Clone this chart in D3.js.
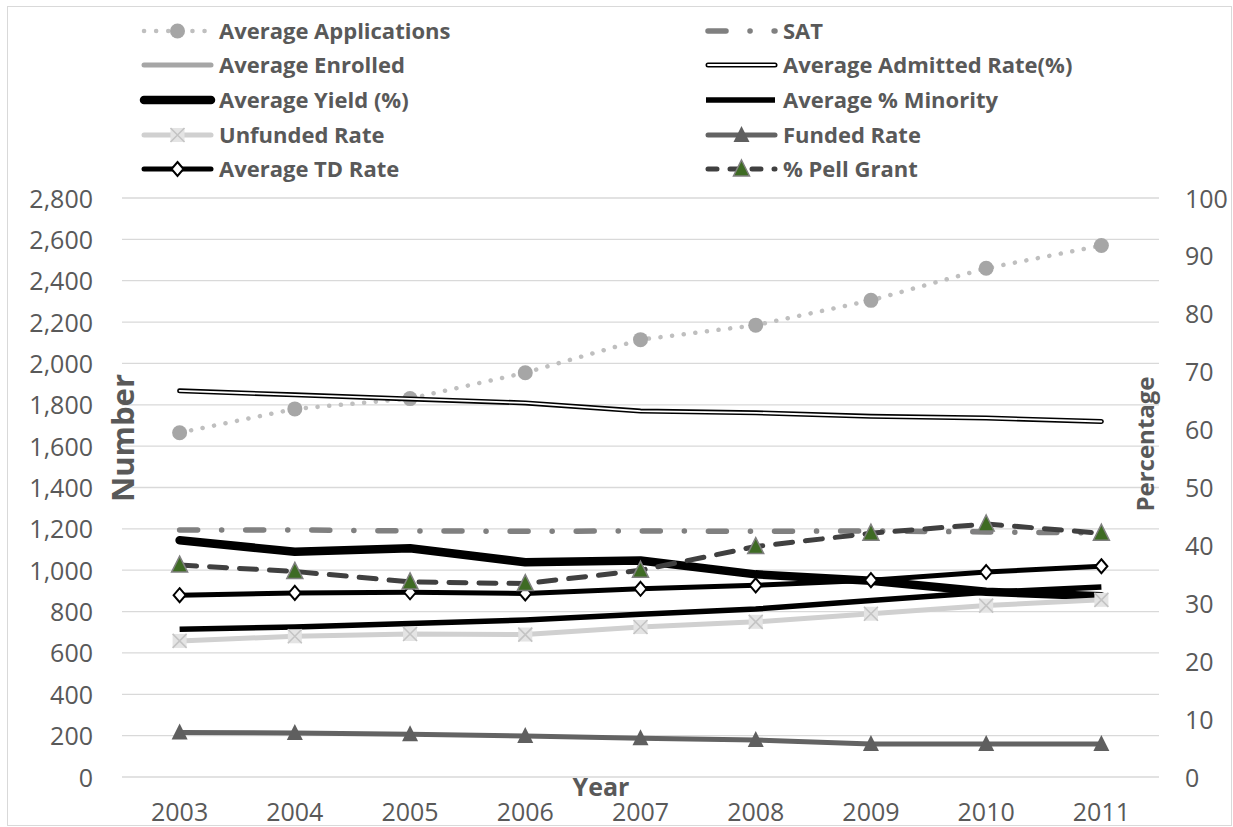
<!DOCTYPE html>
<html><head><meta charset="utf-8">
<script src="https://cdn.jsdelivr.net/npm/d3@7"></script>
<style>
html,body{margin:0;padding:0;background:#fff;}
text{font-family:"Open Sans","Noto Sans",sans-serif;}
</style></head>
<body><svg id="c" width="1233" height="827"></svg>
<script>
const years = [2003, 2004, 2005, 2006, 2007, 2008, 2009, 2010, 2011];
const leftTicks = [0, 200, 400, 600, 800, 1000, 1200, 1400, 1600, 1800, 2000, 2200, 2400, 2600, 2800];
const rightTicks = [0, 10, 20, 30, 40, 50, 60, 70, 80, 90, 100];
// left axis (Number)
const applications = [1665, 1780, 1830, 1955, 2115, 2185, 2305, 2460, 2570];
const sat = [1195, 1195, 1190, 1188, 1190, 1188, 1190, 1185, 1180];
const enrolled = []; // not visible in the picture
// right axis (Percentage)
const admittedRate = [66.7, 66.0, 65.3, 64.6, 63.2, 62.9, 62.3, 62.0, 61.4];
const yieldRate = [40.9, 38.9, 39.5, 37.1, 37.4, 35.0, 33.9, 32.0, 31.2];
const minority = [25.5, 25.9, 26.5, 27.1, 28.1, 29.0, 30.5, 31.9, 32.8];
const unfundedRate = [23.5, 24.3, 24.7, 24.6, 25.9, 26.8, 28.2, 29.6, 30.6];
const fundedRate = [7.7, 7.6, 7.4, 7.1, 6.7, 6.4, 5.7, 5.7, 5.7];
const tdRate = [31.4, 31.8, 31.9, 31.7, 32.5, 33.1, 34.0, 35.4, 36.4];
const pellGrant = [36.6, 35.5, 33.7, 33.4, 35.7, 39.8, 42.1, 43.7, 42.1];

const svg = d3.select("#c");
const X0 = 122, X1 = 1159, YB = 777, YT = 198;
const x = d3.scaleBand().domain(years).range([X0, X1]);
const xc = d => x(d) + x.bandwidth() / 2;
const yL = d3.scaleLinear().domain([0, 2800]).range([YB, YT]);
const yR = d3.scaleLinear().domain([0, 100]).range([YB, YT]);
const txt = "#595959";

// outer border
svg.append("rect").attr("x", 7.5).attr("y", 6.5).attr("width", 1224).attr("height", 819)
  .attr("fill", "none").attr("stroke", "#d9d9d9").attr("stroke-width", 1);

// gridlines
svg.append("g").selectAll("line").data(leftTicks).join("line")
  .attr("x1", X0).attr("x2", X1).attr("y1", d => yL(d)).attr("y2", d => yL(d))
  .attr("stroke", "#d9d9d9").attr("stroke-width", 1.3);

// axes
const fmt = d3.format(",");
const gl = svg.append("g").attr("transform", `translate(${X0 - 29},0)`)
  .call(d3.axisLeft(yL).tickValues(leftTicks).tickFormat(fmt).tickSize(0).tickPadding(0));
const gr = svg.append("g").attr("transform", `translate(${X1 + 26},0)`)
  .call(d3.axisRight(yR).tickValues(rightTicks).tickSize(0).tickPadding(0));
const gx = svg.append("g").attr("transform", `translate(0,${YB + 29})`)
  .call(d3.axisBottom(x).tickSize(0).tickPadding(0));
[gl, gr, gx].forEach(g => {
  g.select(".domain").remove();
  g.selectAll("text").attr("fill", txt).style("font-size", "25px").style("font-family", '"Open Sans", sans-serif');
});
gl.selectAll("text").attr("dy", "0.36em");
gr.selectAll("text").attr("dy", "0.36em");
gx.selectAll("text").attr("dy", "0.6em");

// axis titles
svg.append("text").attr("transform", `translate(134,438) rotate(-90)`).attr("text-anchor", "middle")
  .attr("fill", txt).style("font-size", "31px").style("font-weight", "bold").text("Number");
svg.append("text").attr("transform", `translate(1154,444) rotate(-90)`).attr("text-anchor", "middle")
  .attr("fill", txt).style("font-size", "24px").style("font-weight", "bold").text("Percentage");
svg.append("text").attr("x", 601).attr("y", 796).attr("text-anchor", "middle")
  .attr("fill", txt).style("font-size", "25px").style("font-weight", "bold").text("Year");

// series definitions
const series = [
  {name: "Average Applications", data: applications, axis: yL, color: "#bfbfbf", width: 4.5, dash: "0.1,11.6", cap: "round", marker: "circle"},
  {name: "SAT", data: sat, axis: yL, color: "#808080", width: 5.5, dash: "18,24,0.1,24", cap: "round", marker: null},
  {name: "Average Enrolled", data: enrolled, axis: yL, color: "#a6a6a6", width: 5, dash: null, cap: "round", marker: null},
  {name: "Average Admitted Rate(%)", data: admittedRate, axis: yR, color: "#000", width: 5, dash: null, cap: "round", marker: null, double: true},
  {name: "Average Yield (%)", data: yieldRate, axis: yR, color: "#000", width: 8.5, dash: null, cap: "round", marker: null},
  {name: "Average % Minority", data: minority, axis: yR, color: "#000", width: 5.5, dash: null, cap: "butt", marker: null},
  {name: "Unfunded Rate", data: unfundedRate, axis: yR, color: "#d0d0d0", width: 5, dash: null, cap: "round", marker: "x"},
  {name: "Funded Rate", data: fundedRate, axis: yR, color: "#636363", width: 5, dash: null, cap: "round", marker: "tri"},
  {name: "Average TD Rate", data: tdRate, axis: yR, color: "#000", width: 5, dash: null, cap: "round", marker: "diamond"},
  {name: "% Pell Grant", data: pellGrant, axis: yR, color: "#404040", width: 5, dash: "17,13", cap: "round", marker: "pell"}
];

function drawLine(g, pts, s) {
  const line = d3.line();
  g.append("path").attr("d", line(pts)).attr("fill", "none").attr("stroke", s.color)
    .attr("stroke-width", s.width).attr("stroke-linecap", s.cap).attr("stroke-linejoin", "round")
    .attr("stroke-dasharray", s.dash);
  if (s.double) {
    g.append("path").attr("d", line(pts)).attr("fill", "none").attr("stroke", "#fff")
      .attr("stroke-width", 1.8).attr("stroke-linecap", "round").attr("stroke-linejoin", "round");
  }
}
function drawMarker(g, cx, cy, type, scale) {
  const k = scale || 1;
  if (type === "circle") {
    g.append("circle").attr("cx", cx).attr("cy", cy).attr("r", 7.5 * k).attr("fill", "#a6a6a6");
  } else if (type === "x") {
    const h = 7 * k;
    g.append("rect").attr("x", cx - h).attr("y", cy - h).attr("width", 2 * h).attr("height", 2 * h).attr("fill", "#e4e4e4");
    g.append("path").attr("d", `M${cx - h},${cy - h}L${cx + h},${cy + h}M${cx + h},${cy - h}L${cx - h},${cy + h}`)
      .attr("stroke", "#c4c4c4").attr("stroke-width", 1.6);
  } else if (type === "tri") {
    const w = 8 * k, hh = 7 * k;
    g.append("path").attr("d", `M${cx},${cy - hh - 2}L${cx + w},${cy + hh}L${cx - w},${cy + hh}Z`).attr("fill", "#5f5f5f");
  } else if (type === "pell") {
    const w = 8 * k, hh = 7 * k;
    g.append("path").attr("d", `M${cx},${cy - hh - 2}L${cx + w},${cy + hh}L${cx - w},${cy + hh}Z`)
      .attr("fill", "#3e6b23").attr("stroke", "#808080").attr("stroke-width", 1.5);
  } else if (type === "diamond") {
    const w = 6 * k, hh = 7 * k;
    g.append("path").attr("d", `M${cx},${cy - hh}L${cx + w},${cy}L${cx},${cy + hh}L${cx - w},${cy}Z`)
      .attr("fill", "#fff").attr("stroke", "#000").attr("stroke-width", 2);
  }
}

const plot = svg.append("g");
series.forEach(s => {
  if (!s.data.length) return;
  const pts = s.data.map((v, i) => [xc(years[i]), s.axis(v)]);
  const g = plot.append("g");
  drawLine(g, pts, s);
  if (s.marker) pts.forEach(p => drawMarker(g, p[0], p[1], s.marker));
});

// legend
const legRows = [31, 65, 100, 135, 169];
const legCols = [{x0: 142, x1: 213, tx: 219}, {x0: 706, x1: 777, tx: 783}];
const leg = svg.append("g");
series.forEach((s, i) => {
  const col = legCols[i % 2], y = legRows[Math.floor(i / 2)];
  const g = leg.append("g");
  const ls = Object.assign({}, s);
  if (s.name === "Average Applications") ls.dash = "0.1,12";
  if (s.name === "SAT") ls.dash = "18,24,0.1,24";
  if (s.name === "% Pell Grant") ls.dash = "9,13";
  drawLine(g, [[col.x0 + (s.cap === "round" ? 2 : 0), y], [col.x1 - 2, y]], ls);
  if (s.marker) drawMarker(g, (col.x0 + col.x1) / 2, y, s.marker);
  g.append("text").attr("x", col.tx).attr("y", y).attr("dy", "0.36em").attr("fill", txt)
    .style("font-size", "22px").style("font-weight", "bold").text(s.name);
});
</script></body></html>
